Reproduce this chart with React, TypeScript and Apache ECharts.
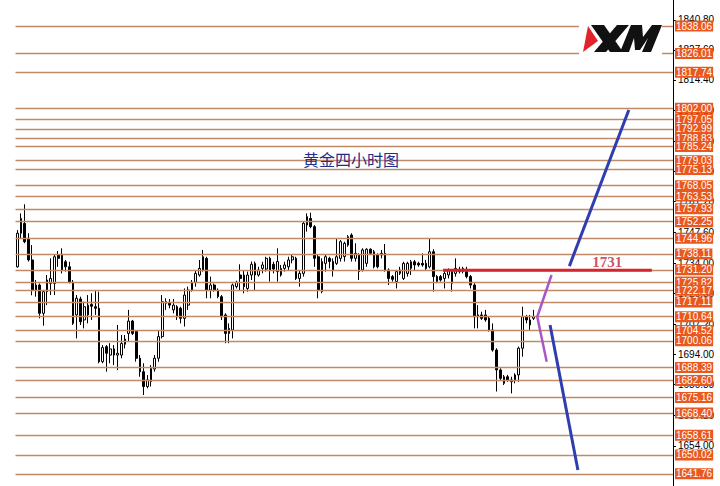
import React, { useEffect, useRef } from "react";
import * as echarts from "echarts";

// Horizontal support / resistance levels (orange tags on the right)
const levelPrices = [
  1838.06, 1826.01, 1817.74, 1802.0, 1797.05, 1792.99, 1788.83, 1785.24, 1779.03, 1775.13,
  1768.05, 1763.53, 1757.93, 1752.25, 1744.96, 1738.11, 1731.2, 1725.82, 1722.17, 1717.11,
  1710.64, 1704.52, 1700.06, 1688.39, 1682.6, 1675.16, 1668.4, 1658.61, 1650.02, 1641.76,
];

// Native price-scale ticks (mostly hidden behind the tags)
const axisTickPrices = [
  1840.8, 1827.6, 1814.4, 1801.2, 1787.6, 1774.4, 1761.2, 1747.6, 1734.0, 1720.8, 1707.2,
  1694.0, 1680.8, 1667.2, 1654.0,
];

// 4-hour candles: [open, close, low, high]
const ohlc: number[][] = [
  [1732.5, 1747.2, 1732.1, 1748.6], [1747.2, 1753.7, 1745.0, 1755.9], [1751.5, 1743.5, 1742.8, 1759.9],
  [1745.0, 1735.5, 1734.8, 1747.2], [1735.5, 1722.3, 1720.0, 1742.0], [1722.3, 1724.5, 1719.4, 1726.7],
  [1724.5, 1712.1, 1709.9, 1725.2], [1712.1, 1721.6, 1706.7, 1722.3], [1721.6, 1726.7, 1715.7, 1728.9],
  [1725.2, 1727.4, 1720.1, 1736.2], [1725.2, 1736.9, 1720.1, 1737.7], [1737.7, 1736.2, 1732.5, 1739.4],
  [1738.0, 1731.1, 1729.6, 1740.6], [1734.7, 1732.5, 1730.4, 1735.5], [1732.5, 1725.7, 1725.2, 1734.7],
  [1725.7, 1707.7, 1707.0, 1726.7], [1711.4, 1718.7, 1701.1, 1720.1], [1718.4, 1708.4, 1707.0, 1719.4],
  [1709.2, 1715.0, 1705.5, 1717.2], [1711.4, 1715.7, 1707.7, 1720.1], [1716.0, 1715.2, 1709.2, 1720.9],
  [1715.0, 1714.3, 1711.4, 1722.3], [1714.3, 1690.9, 1690.2, 1721.6], [1690.9, 1697.1, 1690.2, 1698.2],
  [1697.5, 1694.6, 1686.5, 1698.2], [1693.8, 1696.5, 1690.2, 1699.0], [1696.5, 1693.8, 1689.4, 1698.2],
  [1693.8, 1694.6, 1687.2, 1707.0], [1693.8, 1698.9, 1692.4, 1702.6], [1698.5, 1700.8, 1696.7, 1702.6],
  [1703.3, 1708.7, 1699.7, 1713.6], [1708.7, 1703.3, 1702.6, 1709.2], [1704.1, 1692.4, 1690.9, 1704.8],
  [1692.4, 1686.5, 1684.3, 1693.8], [1686.5, 1680.0, 1676.3, 1690.2], [1680.0, 1682.9, 1679.2, 1685.0],
  [1682.2, 1688.0, 1680.0, 1689.4], [1687.7, 1692.4, 1686.5, 1693.8], [1692.4, 1701.9, 1690.9, 1704.8],
  [1701.9, 1717.2, 1701.1, 1720.1], [1717.2, 1716.5, 1713.6, 1718.7], [1716.9, 1715.7, 1714.3, 1718.4],
  [1713.6, 1715.7, 1712.1, 1718.4], [1715.0, 1710.6, 1709.2, 1715.7], [1714.3, 1709.9, 1707.7, 1715.0],
  [1709.9, 1720.1, 1706.3, 1723.0], [1715.7, 1722.3, 1713.6, 1723.8], [1722.3, 1725.7, 1721.6, 1726.7],
  [1725.7, 1729.6, 1723.8, 1731.1], [1728.9, 1731.8, 1728.2, 1735.5], [1731.1, 1736.9, 1730.4, 1739.9],
  [1736.2, 1722.3, 1718.7, 1736.9], [1722.3, 1724.5, 1718.7, 1728.2], [1724.5, 1722.3, 1721.6, 1725.2],
  [1722.3, 1719.4, 1718.7, 1723.0], [1719.4, 1710.6, 1709.2, 1720.1], [1711.4, 1703.3, 1699.0, 1712.1],
  [1703.3, 1705.5, 1699.0, 1707.7], [1704.8, 1724.5, 1701.1, 1725.2], [1723.8, 1725.7, 1723.0, 1726.4],
  [1728.9, 1727.4, 1722.3, 1733.6], [1728.9, 1723.8, 1720.9, 1731.1], [1723.0, 1728.9, 1721.6, 1730.4],
  [1728.9, 1733.6, 1726.7, 1734.8], [1728.9, 1734.0, 1722.3, 1734.8], [1728.9, 1731.1, 1728.2, 1732.5],
  [1731.8, 1733.3, 1729.6, 1734.7], [1731.5, 1736.2, 1730.4, 1736.9], [1736.2, 1731.1, 1726.0, 1736.9],
  [1733.6, 1731.5, 1729.6, 1734.7], [1730.4, 1734.8, 1726.0, 1740.6], [1728.9, 1731.8, 1728.2, 1733.3],
  [1731.8, 1733.3, 1730.4, 1734.7], [1732.5, 1735.5, 1731.1, 1736.9], [1735.5, 1736.9, 1734.0, 1737.7],
  [1736.2, 1727.4, 1726.7, 1736.9], [1727.4, 1729.6, 1723.8, 1731.1], [1729.6, 1751.6, 1728.2, 1752.3],
  [1750.8, 1754.5, 1747.9, 1755.9], [1753.7, 1750.1, 1749.4, 1756.2], [1750.1, 1736.2, 1732.5, 1750.8],
  [1736.9, 1722.3, 1718.7, 1737.7], [1721.6, 1734.8, 1720.9, 1736.2], [1734.0, 1736.9, 1730.4, 1737.7],
  [1736.2, 1734.8, 1731.8, 1736.9], [1734.8, 1731.1, 1728.2, 1736.2], [1734.0, 1736.9, 1733.3, 1745.0],
  [1736.2, 1743.5, 1734.8, 1744.2], [1737.0, 1742.8, 1734.8, 1743.5], [1742.0, 1745.7, 1741.3, 1746.4],
  [1746.4, 1736.2, 1734.8, 1747.2], [1736.2, 1738.4, 1734.8, 1742.8], [1737.7, 1730.4, 1726.7, 1738.4],
  [1731.1, 1739.9, 1730.4, 1740.6], [1734.0, 1740.2, 1732.5, 1740.6], [1740.2, 1738.4, 1737.7, 1740.6],
  [1739.1, 1732.5, 1731.8, 1739.9], [1737.7, 1732.5, 1731.8, 1738.4], [1738.4, 1737.7, 1736.2, 1739.9],
  [1738.4, 1731.1, 1730.4, 1742.5], [1731.1, 1727.4, 1724.5, 1731.8], [1728.2, 1727.0, 1726.0, 1728.9],
  [1726.0, 1730.4, 1723.0, 1731.1], [1729.6, 1731.1, 1728.9, 1732.5], [1727.4, 1734.0, 1726.7, 1734.7],
  [1729.6, 1734.0, 1728.2, 1734.7], [1731.8, 1734.7, 1728.9, 1735.5], [1734.7, 1733.3, 1731.1, 1735.5],
  [1734.0, 1733.3, 1732.5, 1734.7], [1734.0, 1733.3, 1732.5, 1738.4], [1734.0, 1731.8, 1731.1, 1735.5],
  [1732.5, 1739.1, 1731.8, 1745.0], [1739.1, 1728.2, 1721.6, 1740.2], [1728.2, 1726.0, 1725.3, 1728.9],
  [1728.2, 1726.7, 1726.0, 1728.9], [1727.4, 1729.6, 1723.0, 1731.1], [1728.9, 1731.1, 1727.4, 1731.8],
  [1730.4, 1725.3, 1721.6, 1731.1], [1729.6, 1731.8, 1728.2, 1736.2], [1731.1, 1730.4, 1729.6, 1732.5],
  [1730.4, 1731.8, 1729.6, 1732.5], [1730.4, 1728.2, 1727.4, 1732.5], [1728.2, 1724.5, 1723.0, 1728.9],
  [1724.5, 1710.6, 1705.5, 1725.3], [1711.4, 1710.6, 1705.5, 1715.7], [1711.4, 1709.9, 1709.2, 1712.8],
  [1711.4, 1709.2, 1708.4, 1713.6], [1709.9, 1704.8, 1704.1, 1710.6], [1704.8, 1696.0, 1695.3, 1707.7],
  [1696.0, 1687.3, 1677.8, 1696.8], [1687.3, 1683.6, 1682.9, 1688.0], [1681.4, 1684.3, 1680.7, 1685.1],
  [1684.3, 1682.9, 1682.1, 1685.1], [1682.1, 1682.9, 1677.0, 1684.3], [1682.9, 1685.1, 1681.4, 1685.8],
  [1685.1, 1696.8, 1682.1, 1697.5], [1696.8, 1710.6, 1693.1, 1715.0], [1710.6, 1709.2, 1707.7, 1711.4],
  [1707.0, 1709.2, 1704.8, 1711.4], [1709.9, 1710.6, 1709.2, 1713.6],
];

const slotCount = 177; // candle slots incl. empty space to the right
const resistanceValue = 1731;
const resistanceLine = [[114.6, 1731], [170.8, 1731]];
const upTrend = [[148.6, 1732.8], [164.6, 1801.2]];
const downTrend = [[143.4, 1707.0], [150.9, 1643.4]];
const forkPath = [[143.8, 1728.9], [139.96, 1710.6], [142.5, 1690.9]];
const resistanceLabelAt = [[158.8, 1731]];
const titleText = "黄金四小时图";
const priceMin = 1636.4;
const priceMax = 1849.46;

export default function App() {
  const ref = useRef<HTMLDivElement>(null);
  useEffect(() => {
    if (!ref.current) return;
    const chart = echarts.init(ref.current, undefined, { renderer: "svg" });
    const categories = Array.from({ length: slotCount }, (_, i) => String(i));
    const option: any = {
      animation: false,
      backgroundColor: "#ffffff",
      title: {
        text: titleText,
        left: 298,
        top: 146,
        textStyle: {
          color: "#1f2d8c",
          fontSize: 16,
          fontWeight: "normal",
          fontFamily: "Noto Sans CJK SC",
        },
      },
      grid: { left: 15.5, right: 47, top: 0, bottom: 0 },
      xAxis: [
        { type: "category", data: categories, show: false, boundaryGap: true, axisLine: { onZero: false } },
        { type: "value", min: -0.5, max: slotCount - 0.5, show: false, axisLine: { onZero: false } },
      ],
      yAxis: {
        type: "value",
        position: "right",
        min: priceMin,
        max: priceMax,
        splitLine: { show: false },
        axisLine: { show: true, onZero: false, lineStyle: { color: "#000", width: 1 } },
        axisTick: {
          show: true,
          length: 3,
          lineStyle: { color: "#000" },
          customValues: axisTickPrices,
        },
        axisLabel: {
          show: true,
          color: "#000",
          fontSize: 10,
          fontFamily: "Liberation Sans",
          margin: 5,
          customValues: axisTickPrices,
          formatter: (v: number) => v.toFixed(2),
        },
      },
      series: [
        {
          type: "candlestick",
          xAxisIndex: 0,
          data: ohlc,
          barWidth: 2.2,
          itemStyle: {
            color: "#ffffff",
            color0: "#000000",
            borderColor: "#000000",
            borderColor0: "#000000",
            borderColorDoji: "#000000",
            borderWidth: 1,
          },
          silent: true,
          markLine: {
            silent: true,
            symbol: ["none", "none"],
            precision: 2,
            lineStyle: { color: "#c08a66", width: 1.4, type: "solid" },
            label: {
              show: true,
              position: "end",
              distance: 2,
              formatter: (p: any) => Number(p.value).toFixed(2),
              backgroundColor: "#e8581f",
              color: "#ffffff",
              fontSize: 10,
              lineHeight: 10,
              fontFamily: "Liberation Sans",
              padding: [1, 1, 0, 1],
            },
            emphasis: { disabled: true },
            data: levelPrices.map((v) => ({ yAxis: v })),
          },
        },
        {
          type: "line",
          xAxisIndex: 1,
          data: resistanceLine,
          symbol: "none",
          z: 6,
          silent: true,
          lineStyle: { color: "#d6252d", width: 3 },
        },
        {
          type: "line",
          xAxisIndex: 1,
          data: upTrend,
          symbol: "none",
          z: 6,
          silent: true,
          lineStyle: { color: "#2f3db0", width: 3 },
        },
        {
          type: "line",
          xAxisIndex: 1,
          data: downTrend,
          symbol: "none",
          z: 6,
          silent: true,
          lineStyle: { color: "#2f3db0", width: 3 },
        },
        {
          type: "line",
          xAxisIndex: 1,
          data: forkPath,
          symbol: "none",
          z: 6,
          silent: true,
          lineStyle: { color: "#a957c4", width: 2.5 },
        },
        {
          type: "scatter",
          xAxisIndex: 1,
          data: resistanceLabelAt,
          symbolSize: 1,
          itemStyle: { color: "rgba(0,0,0,0)" },
          z: 7,
          silent: true,
          label: {
            show: true,
            position: "top",
            distance: 0,
            formatter: String(resistanceValue),
            color: "#c0243a",
            fontSize: 15,
            fontWeight: "bold",
            fontFamily: "Liberation Serif",
          },
        },
      ],
      graphic: [
        {
          type: "group",
          z: 100,
          children: [
            { type: "rect", shape: { x: 579, y: 17, width: 83, height: 43 }, style: { fill: "#ffffff" }, z: 100 },
            { type: "polygon", shape: { points: [[583, 52], [588, 26], [598, 41]] }, style: { fill: "#e3232b" }, z: 101 },
            { type: "polygon", shape: { points: [[591, 25], [604, 25], [623, 52], [610, 52]] }, style: { fill: "#111" }, z: 101 },
            { type: "polygon", shape: { points: [[617, 25], [629, 25], [606, 52], [594, 52]] }, style: { fill: "#111" }, z: 101 },
            {
              type: "polygon",
              shape: {
                points: [
                  [620, 52], [631, 25], [642, 25], [643, 37], [652, 25], [662, 25], [651, 52],
                  [642, 52], [648, 38], [640, 50], [635, 50], [634, 38], [629, 52],
                ],
              },
              style: { fill: "#111" },
              z: 101,
            },
          ],
        },
      ],
    };
    chart.setOption(option);
    return () => chart.dispose();
  }, []);
  return (
    <div
      ref={ref}
      style={{ position: "absolute", left: 0, top: 0, width: 720, height: 486 }}
    />
  );
}
